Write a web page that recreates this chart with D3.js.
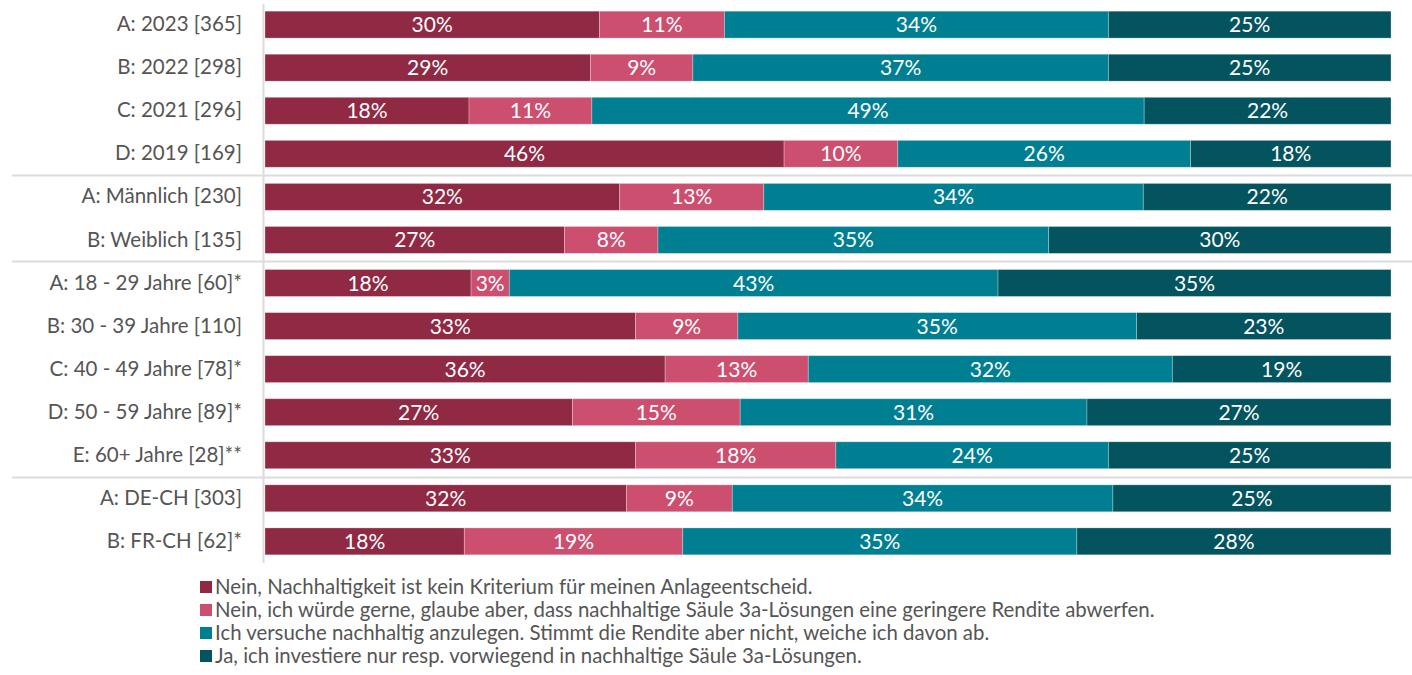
<!DOCTYPE html>
<html>
<head>
<meta charset="utf-8">
<script src="https://cdn.jsdelivr.net/npm/d3@7"></script>
<style>
  body { margin: 0; background: #fff; }
  svg text { font-family: "Source Sans Pro", Lato, "Open Sans", sans-serif; }
</style>
</head>
<body>
<figure id="stack" style="margin:0"></figure>
<script>
const categories = [
  "A: 2023 [365]", "B: 2022 [298]", "C: 2021 [296]", "D: 2019 [169]",
  "A: Männlich [230]", "B: Weiblich [135]",
  "A: 18 - 29 Jahre [60]*", "B: 30 - 39 Jahre [110]", "C: 40 - 49 Jahre [78]*",
  "D: 50 - 59 Jahre [89]*", "E: 60+ Jahre [28]**",
  "A: DE-CH [303]", "B: FR-CH [62]*"
];
const seriesNames = [
  "Nein, Nachhaltigkeit ist kein Kriterium für meinen Anlageentscheid.",
  "Nein, ich würde gerne, glaube aber, dass nachhaltige Säule 3a-Lösungen eine geringere Rendite abwerfen.",
  "Ich versuche nachhaltig anzulegen. Stimmt die Rendite aber nicht, weiche ich davon ab.",
  "Ja, ich investiere nur resp. vorwiegend in nachhaltige Säule 3a-Lösungen."
];
const nein = [29.7, 28.9, 18.1, 46.1, 31.5, 26.6, 18.3, 32.9, 35.5, 27.3, 32.9, 32.1, 17.7];
const neinRendite = [11.1, 9.1, 10.9, 10.1, 12.8, 8.3, 3.4, 9.1, 12.7, 14.9, 17.8, 9.4, 19.4];
const versuche = [34.1, 36.9, 49.0, 26.0, 33.7, 34.7, 43.4, 35.4, 32.3, 30.8, 24.2, 33.8, 35.0];
const ja = [25.1, 25.1, 21.9, 17.8, 22.0, 30.4, 34.9, 22.6, 19.4, 27.0, 25.1, 24.7, 27.9];
// group breaks after these categories
const groupEnds = ["D: 2019 [169]", "B: Weiblich [135]", "E: 60+ Jahre [28]**"];

const colors = ["#8f2944", "#cc4f70", "#017f92", "#03545f"];

const width = 1412, height = 675;
const margin = { top: 3, left: 265, right: 21, bottom: 112 };

const svg = d3.select("figure#stack")
  .append("svg")
  .attr("width", width)
  .attr("height", height);

const rows = categories.map((c, i) => {
  const vals = [nein[i], neinRendite[i], versuche[i], ja[i]];
  const sum = d3.sum(vals);
  const r = { cat: c };
  vals.forEach((v, k) => r["s" + k] = v / sum * 100);
  r.raw = vals;
  return r;
});
const keys = ["s0", "s1", "s2", "s3"];
const stacked = d3.stack().keys(keys)(rows);

const x = d3.scaleLinear().domain([0, 100]).range([margin.left, width - margin.right]);
const y = d3.scaleBand()
  .domain(categories)
  .range([margin.top, height - margin.bottom])
  .paddingInner(0.375)
  .paddingOuter(0.19);

// group separator lines
svg.append("g")
  .selectAll("line")
  .data(groupEnds)
  .enter()
  .append("line")
  .attr("x1", 12)
  .attr("x2", width)
  .attr("y1", d => Math.round(y(d) + y.bandwidth() + y.step() * y.paddingInner() / 2) + 0.5)
  .attr("y2", d => Math.round(y(d) + y.bandwidth() + y.step() * y.paddingInner() / 2) + 0.5)
  .attr("stroke", "#dcdcdc")
  .attr("stroke-width", 2);

// vertical axis line
svg.append("line")
  .attr("x1", margin.left - 1.5).attr("x2", margin.left - 1.5)
  .attr("y1", 4).attr("y2", 563)
  .attr("stroke", "#dcdcdc")
  .attr("stroke-width", 2);

// Y axis labels
const yAxis = svg.append("g")
  .attr("transform", "translate(" + (margin.left - 23) + ",0)")
  .call(d3.axisLeft(y).tickSize(0).tickPadding(0));
yAxis.select(".domain").remove();
yAxis.selectAll("text")
  .attr("font-size", 20.5)
  .attr("fill", "#555")
  .style("font-family", "Lato, sans-serif");

// bars
const layers = svg.append("g")
  .selectAll("g")
  .data(stacked)
  .enter()
  .append("g")
  .attr("fill", (d, i) => colors[i]);

layers.selectAll("rect")
  .data(d => d)
  .enter()
  .append("rect")
  .attr("x", d => x(d[0]))
  .attr("y", d => y(d.data.cat))
  .attr("width", d => x(d[1]) - x(d[0]))
  .attr("height", y.bandwidth())
  .attr("stroke", "rgba(255,255,255,0.35)")
  .attr("stroke-width", 0.8);

// value labels
layers.selectAll("text")
  .data((d, i) => d.map(p => ({ p, k: i })))
  .enter()
  .append("text")
  .text(d => Math.round(d.p.data.raw[d.k]) + "%")
  .attr("x", d => (x(d.p[0]) + x(d.p[1])) / 2)
  .attr("y", d => y(d.p.data.cat) + y.bandwidth() / 2)
  .attr("dy", "0.36em")
  .attr("text-anchor", "middle")
  .attr("fill", "#fff")
  .attr("font-size", 21);

// legend
const legend = svg.append("g")
  .attr("transform", "translate(200,579)");
const item = legend.selectAll("g")
  .data(seriesNames)
  .enter()
  .append("g")
  .attr("transform", (d, i) => "translate(0," + (i * 23) + ")");
item.append("rect")
  .attr("width", 12).attr("height", 12)
  .attr("y", 2)
  .attr("fill", (d, i) => colors[i]);
item.append("text")
  .text(d => d)
  .attr("x", 15)
  .attr("y", 8)
  .attr("dy", "0.35em")
  .attr("font-size", 20.4)
  .attr("fill", "#555");
</script>
</body>
</html>
